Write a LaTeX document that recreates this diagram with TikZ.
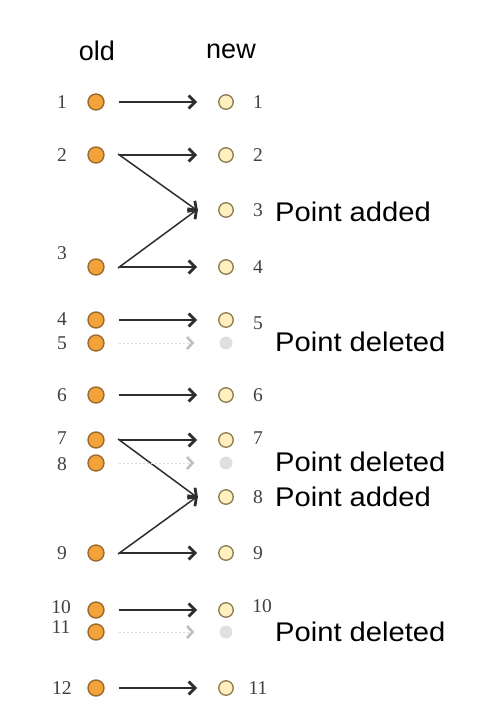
\documentclass[tikz,border=0pt]{standalone}
\usepackage{fontspec}
\setmainfont{Liberation Serif}
\newfontfamily\arialf{Liberation Sans}
\usetikzlibrary{arrows.meta}
\definecolor{oldfill}{HTML}{F4A23A}
\definecolor{olddraw}{HTML}{9A6A30}
\definecolor{newfill}{HTML}{FFF0BE}
\definecolor{newdraw}{HTML}{8A7A50}
\definecolor{delfill}{HTML}{E0E0E0}
\definecolor{arrcol}{HTML}{2E2E2E}
\tikzset{
  oldpt/.style={circle,fill=oldfill,draw=olddraw,line width=1.4pt,minimum size=16pt,inner sep=0pt},
  newpt/.style={circle,fill=newfill,draw=newdraw,line width=1.3pt,minimum size=14.5pt,inner sep=0pt},
  delpt/.style={circle,fill=delfill,minimum size=13pt,inner sep=0pt},
  num/.style={font=\fontsize{19.5}{21}\selectfont,text=black!75,inner sep=0pt},
  head/.style={font=\arialf\fontsize{27}{30}\selectfont,inner sep=0pt},
  note/.style={font=\arialf\fontsize{27}{30}\selectfont,anchor=west,inner sep=0pt,xscale=1.08},
  link/.style={arrcol,line width=1.5pt,-{Straight Barb[length=6.5pt,width=13pt,line width=2.8pt]}},
  dellink/.style={black!15,line width=1pt,dash pattern=on 2pt off 2pt,-{Straight Barb[length=5.5pt,width=12pt,line width=2.6pt,color=black!25]}}
}
\begin{document}
\begin{tikzpicture}[x=1pt,y=-1pt]
\useasboundingbox (0,0) rectangle (482,716);
\node[head] (hold) at (97,51) {old};
\node[head] (hnew) at (231,51) {new};
% old points
\foreach \i/\y in {1/102,2/155,3/267,4/320,5/343,6/395,7/440,8/463,9/553,10/610,11/632,12/688}{
  \node[oldpt] (o\i) at (96,\y) {};
}
% old labels
\foreach \i/\y in {1/102,2/155,4/319,5/343,6/395,7/438,8/464,9/553,12/688}{
  \node[num] (lo\i) at (62,\y) {\i};
}
\node[num] (lo3) at (62,253) {3};
\node[num] (lo10) at (61,607) {10};
\node[num] (lo11) at (61,627) {11};
% new points
\foreach \i/\y in {1/102,2/155,3/210,4/267,5/320,6/395,7/440,8/497,9/553,10/610,11/688}{
  \node[newpt] (n\i) at (226,\y) {};
}
\node[delpt] (d5) at (226,343) {};
\node[delpt] (d8) at (226,463) {};
\node[delpt] (d11) at (226,632) {};
% new labels
\foreach \i/\y in {1/102,2/155,3/210,4/267,6/395,9/553,11/688}{
  \node[num] (ln\i) at (258,\y) {\i};
}
\node[num] (ln5) at (258,323) {5};
\node[num] (ln7) at (258,438) {7};
\node[num] (ln8) at (258,497) {8};
\node[num] (ln10) at (262,606) {10};
% notes
\node[note] (t1) at (275,212) {Point added};
\node[note] (t2) at (275,342) {Point deleted};
\node[note] (t3) at (275,462) {Point deleted};
\node[note] (t4) at (275,497) {Point added};
\node[note] (t5) at (275,632) {Point deleted};
% connectors
\foreach \a/\b in {1/1,2/2,3/4,4/5,6/6,7/7,9/9,10/10,12/11}{
  \draw[link,shorten <=14pt,shorten >=21pt] (o\a) -- (n\b);
}
\draw[link] ([xshift=22pt,yshift=1pt]o2.center) -- ([xshift=-28pt,yshift=-1pt]n3.center);
\draw[link] ([xshift=22pt,yshift=-1pt]o3.center) -- ([xshift=-28pt,yshift=1pt]n3.center);
\draw[link] ([xshift=22pt,yshift=1pt]o7.center) -- ([xshift=-28pt,yshift=-1pt]n8.center);
\draw[link] ([xshift=22pt,yshift=-1pt]o9.center) -- ([xshift=-28pt,yshift=1pt]n8.center);
\foreach \a/\b in {5/5,8/8,11/11}{
  \draw[dellink,shorten <=14pt,shorten >=25pt] (o\a) -- (d\b);
}
\end{tikzpicture}
\end{document}
